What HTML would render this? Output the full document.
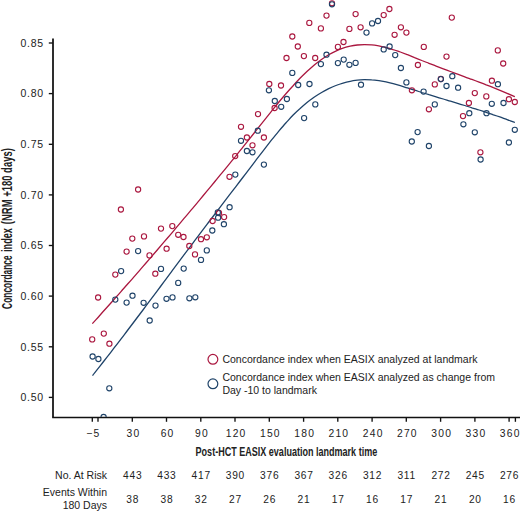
<!DOCTYPE html>
<html><head><meta charset="utf-8"><style>
html,body{margin:0;padding:0;background:#fff;}
svg{display:block;}
text{font-family:"Liberation Sans",sans-serif;fill:#222;}
</style></head><body>
<svg width="520" height="512" viewBox="0 0 520 512">
<defs><clipPath id="pc"><rect x="53" y="0" width="467" height="417"/></clipPath></defs>

<g stroke="#111" stroke-width="1.35" fill="none">
<path d="M53.0,38.5 V417.5" stroke-width="1.75"/>
<path d="M52.2,417.5 H520"/>
<path d="M48.8,43.0 H52.8"/>
<path d="M48.8,93.6 H52.8"/>
<path d="M48.8,144.3 H52.8"/>
<path d="M48.8,194.9 H52.8"/>
<path d="M48.8,245.5 H52.8"/>
<path d="M48.8,296.1 H52.8"/>
<path d="M48.8,346.8 H52.8"/>
<path d="M48.8,397.4 H52.8"/>
<path d="M92.3,417.6 V421.8"/>
<path d="M98.0,417.6 V421.8"/>
<path d="M132.3,417.6 V421.8"/>
<path d="M166.5,417.6 V421.8"/>
<path d="M200.8,417.6 V421.8"/>
<path d="M235.0,417.6 V421.8"/>
<path d="M269.3,417.6 V421.8"/>
<path d="M303.6,417.6 V421.8"/>
<path d="M337.8,417.6 V421.8"/>
<path d="M372.1,417.6 V421.8"/>
<path d="M406.3,417.6 V421.8"/>
<path d="M440.6,417.6 V421.8"/>
<path d="M474.9,417.6 V421.8"/>
<path d="M509.1,417.6 V421.8"/>
<path d="M515.4,417.6 V421.8"/>
</g>
<g font-size="10.5" text-anchor="end" letter-spacing="0.7">
<text x="43.8" y="46.7">0.85</text>
<text x="43.8" y="97.3">0.80</text>
<text x="43.8" y="148.0">0.75</text>
<text x="43.8" y="198.6">0.70</text>
<text x="43.8" y="249.2">0.65</text>
<text x="43.8" y="299.8">0.60</text>
<text x="43.8" y="350.5">0.55</text>
<text x="43.8" y="401.1">0.50</text>
</g>
<g font-size="10.3" text-anchor="middle" letter-spacing="1.2">
<text x="93.4" y="436.8">−5</text>
<text x="133.4" y="436.8">30</text>
<text x="167.6" y="436.8">60</text>
<text x="201.9" y="436.8">90</text>
<text x="236.1" y="436.8">120</text>
<text x="270.4" y="436.8">150</text>
<text x="304.7" y="436.8">180</text>
<text x="338.9" y="436.8">210</text>
<text x="373.2" y="436.8">240</text>
<text x="407.4" y="436.8">270</text>
<text x="441.7" y="436.8">300</text>
<text x="476.0" y="436.8">330</text>
<text x="510.2" y="436.8">360</text>
</g>
<text x="0" y="0" font-size="13.6" transform="translate(286.4,455.7) scale(0.665,1)" text-anchor="middle" style="font-weight:bold">Post-HCT EASIX evaluation landmark time</text>
<g font-size="13.8" style="font-weight:bold">
<text transform="translate(11.7,308.9) rotate(-90) scale(0.608,1)">Concordance</text>
<text transform="translate(11.7,251.9) rotate(-90) scale(0.657,1)">index</text>
<text transform="translate(11.7,224.2) rotate(-90) scale(0.687,1)">(NRM +180 days)</text>
</g>
<g clip-path="url(#pc)" fill="none">
<path d="M92.3,323.7 C93.5,322.3 97.1,318.4 99.5,315.7 C101.8,313.1 104.2,310.4 106.6,307.8 C109.0,305.1 111.4,302.4 113.8,299.7 C116.2,297.0 118.6,294.4 121.0,291.6 C123.3,288.9 125.7,286.2 128.1,283.5 C130.5,280.8 132.9,278.1 135.3,275.3 C137.7,272.6 140.1,269.9 142.4,267.1 C144.8,264.4 147.2,261.6 149.6,258.9 C152.0,256.1 154.4,253.3 156.8,250.5 C159.1,247.8 161.5,245.0 163.9,242.2 C166.3,239.4 168.7,236.6 171.1,233.8 C173.5,231.0 175.9,228.2 178.2,225.3 C180.6,222.5 183.0,219.7 185.4,216.8 C187.8,214.0 190.2,211.2 192.6,208.3 C195.0,205.5 197.4,202.6 199.7,199.8 C202.1,196.9 204.5,194.1 206.9,191.2 C209.3,188.3 211.7,185.4 214.1,182.5 C216.5,179.7 218.8,176.8 221.2,173.8 C223.6,170.9 226.0,168.0 228.4,165.1 C230.8,162.2 233.2,159.2 235.6,156.3 C237.9,153.3 240.3,150.4 242.7,147.4 C245.1,144.4 247.5,141.4 249.9,138.4 C252.3,135.4 254.7,132.3 257.0,129.3 C259.4,126.3 261.8,123.3 264.2,120.3 C266.6,117.3 269.0,114.3 271.4,111.3 C273.8,108.3 276.1,105.4 278.5,102.5 C280.9,99.7 283.3,96.8 285.7,94.0 C288.1,91.3 290.5,88.6 292.9,86.0 C295.2,83.3 297.6,80.8 300.0,78.3 C302.4,75.9 304.8,73.6 307.2,71.3 C309.6,69.1 312.0,67.0 314.3,65.0 C316.7,63.0 319.1,61.2 321.5,59.5 C323.9,57.8 326.3,56.2 328.7,54.8 C331.1,53.4 333.4,52.2 335.8,51.1 C338.2,50.0 340.6,49.0 343.0,48.2 C345.4,47.4 347.8,46.8 350.2,46.2 C352.5,45.7 354.9,45.3 357.3,45.0 C359.7,44.8 362.1,44.6 364.5,44.6 C366.9,44.6 369.3,44.7 371.6,44.9 C374.0,45.1 376.4,45.5 378.8,45.9 C381.2,46.4 383.6,46.9 386.0,47.5 C388.4,48.1 390.7,48.8 393.1,49.6 C395.5,50.3 397.9,51.2 400.3,52.0 C402.7,52.9 405.1,53.8 407.5,54.7 C409.8,55.6 412.2,56.6 414.6,57.6 C417.0,58.5 419.4,59.5 421.8,60.5 C424.2,61.4 426.6,62.4 428.9,63.3 C431.3,64.2 433.7,65.2 436.1,66.1 C438.5,67.0 440.9,67.9 443.3,68.8 C445.7,69.7 448.1,70.6 450.4,71.5 C452.8,72.4 455.2,73.2 457.6,74.1 C460.0,75.0 462.4,75.9 464.8,76.8 C467.1,77.7 469.5,78.5 471.9,79.4 C474.3,80.3 476.7,81.2 479.1,82.1 C481.5,83.0 483.9,83.9 486.2,84.9 C488.6,85.8 491.0,86.7 493.4,87.7 C495.8,88.6 498.2,89.6 500.6,90.6 C503.0,91.6 505.4,92.6 507.7,93.6 C510.1,94.6 513.7,96.2 514.9,96.7" stroke="#aa173f" stroke-width="1.3"/>
<path d="M92.5,375.6 C93.6,374.1 97.2,369.6 99.6,366.6 C102.0,363.5 104.4,360.5 106.8,357.4 C109.2,354.4 111.5,351.3 113.9,348.2 C116.3,345.1 118.7,342.0 121.1,338.9 C123.5,335.7 125.9,332.6 128.2,329.5 C130.6,326.3 133.0,323.2 135.4,320.0 C137.8,316.8 140.2,313.6 142.6,310.5 C145.0,307.3 147.3,304.1 149.7,300.9 C152.1,297.7 154.5,294.5 156.9,291.3 C159.3,288.1 161.7,284.9 164.1,281.7 C166.4,278.5 168.8,275.3 171.2,272.1 C173.6,268.8 176.0,265.6 178.4,262.4 C180.8,259.2 183.1,256.0 185.5,252.9 C187.9,249.7 190.3,246.5 192.7,243.3 C195.1,240.1 197.5,237.0 199.8,233.8 C202.2,230.7 204.6,227.5 207.0,224.4 C209.4,221.2 211.8,218.1 214.2,215.0 C216.6,211.8 218.9,208.7 221.3,205.6 C223.7,202.5 226.1,199.3 228.5,196.2 C230.9,193.1 233.3,190.0 235.7,186.9 C238.0,183.8 240.4,180.6 242.8,177.5 C245.2,174.4 247.6,171.3 250.0,168.1 C252.4,165.0 254.7,161.9 257.1,158.7 C259.5,155.6 261.9,152.5 264.3,149.4 C266.7,146.3 269.1,143.2 271.4,140.2 C273.8,137.2 276.2,134.2 278.6,131.3 C281.0,128.5 283.4,125.7 285.8,123.0 C288.2,120.4 290.5,117.8 292.9,115.3 C295.3,112.9 297.7,110.6 300.1,108.5 C302.5,106.3 304.9,104.3 307.3,102.3 C309.6,100.4 312.0,98.7 314.4,97.0 C316.8,95.4 319.2,93.9 321.6,92.5 C324.0,91.1 326.4,89.8 328.7,88.6 C331.1,87.5 333.5,86.4 335.9,85.5 C338.3,84.6 340.7,83.8 343.1,83.1 C345.4,82.4 347.8,81.8 350.2,81.3 C352.6,80.8 355.0,80.5 357.4,80.2 C359.8,79.9 362.2,79.8 364.5,79.7 C366.9,79.7 369.3,79.7 371.7,79.9 C374.1,80.0 376.5,80.3 378.9,80.6 C381.2,80.9 383.6,81.4 386.0,81.9 C388.4,82.4 390.8,83.0 393.2,83.6 C395.6,84.3 398.0,85.0 400.3,85.7 C402.7,86.4 405.1,87.2 407.5,87.9 C409.9,88.7 412.3,89.5 414.7,90.2 C417.0,91.0 419.4,91.7 421.8,92.5 C424.2,93.2 426.6,93.9 429.0,94.7 C431.4,95.4 433.8,96.1 436.1,96.8 C438.5,97.6 440.9,98.3 443.3,99.0 C445.7,99.7 448.1,100.5 450.5,101.2 C452.8,101.9 455.2,102.6 457.6,103.3 C460.0,104.1 462.4,104.8 464.8,105.5 C467.2,106.3 469.6,107.0 471.9,107.8 C474.3,108.5 476.7,109.3 479.1,110.0 C481.5,110.8 483.9,111.6 486.3,112.4 C488.6,113.2 491.0,113.9 493.4,114.8 C495.8,115.6 498.2,116.4 500.6,117.2 C503.0,118.1 505.4,118.9 507.7,119.8 C510.1,120.7 513.7,122.0 514.9,122.5" stroke="#1f4369" stroke-width="1.3"/>
<circle cx="92.2" cy="339.4" r="2.6" stroke="#aa173f" stroke-width="1.1"/>
<circle cx="103.8" cy="333.6" r="2.6" stroke="#aa173f" stroke-width="1.1"/>
<circle cx="109.4" cy="343.7" r="2.6" stroke="#aa173f" stroke-width="1.1"/>
<circle cx="98.1" cy="297.5" r="2.6" stroke="#aa173f" stroke-width="1.1"/>
<circle cx="115.3" cy="274.6" r="2.6" stroke="#aa173f" stroke-width="1.1"/>
<circle cx="120.9" cy="209.5" r="2.6" stroke="#aa173f" stroke-width="1.1"/>
<circle cx="126.6" cy="251.6" r="2.6" stroke="#aa173f" stroke-width="1.1"/>
<circle cx="132.3" cy="238.6" r="2.6" stroke="#aa173f" stroke-width="1.1"/>
<circle cx="138.1" cy="189.5" r="2.6" stroke="#aa173f" stroke-width="1.1"/>
<circle cx="144.0" cy="236.4" r="2.6" stroke="#aa173f" stroke-width="1.1"/>
<circle cx="149.5" cy="255.4" r="2.6" stroke="#aa173f" stroke-width="1.1"/>
<circle cx="155.3" cy="273.7" r="2.6" stroke="#aa173f" stroke-width="1.1"/>
<circle cx="161.0" cy="228.6" r="2.6" stroke="#aa173f" stroke-width="1.1"/>
<circle cx="166.6" cy="248.7" r="2.6" stroke="#aa173f" stroke-width="1.1"/>
<circle cx="172.3" cy="226.1" r="2.6" stroke="#aa173f" stroke-width="1.1"/>
<circle cx="178.2" cy="234.8" r="2.6" stroke="#aa173f" stroke-width="1.1"/>
<circle cx="183.5" cy="237.0" r="2.6" stroke="#aa173f" stroke-width="1.1"/>
<circle cx="189.3" cy="246.0" r="2.6" stroke="#aa173f" stroke-width="1.1"/>
<circle cx="195.0" cy="254.4" r="2.6" stroke="#aa173f" stroke-width="1.1"/>
<circle cx="201.0" cy="239.2" r="2.6" stroke="#aa173f" stroke-width="1.1"/>
<circle cx="206.8" cy="237.3" r="2.6" stroke="#aa173f" stroke-width="1.1"/>
<circle cx="212.6" cy="221.0" r="2.6" stroke="#aa173f" stroke-width="1.1"/>
<circle cx="219.0" cy="213.0" r="2.6" stroke="#aa173f" stroke-width="1.1"/>
<circle cx="224.1" cy="217.1" r="2.6" stroke="#aa173f" stroke-width="1.1"/>
<circle cx="229.5" cy="176.8" r="2.6" stroke="#aa173f" stroke-width="1.1"/>
<circle cx="235.2" cy="156.1" r="2.6" stroke="#aa173f" stroke-width="1.1"/>
<circle cx="241.0" cy="126.8" r="2.6" stroke="#aa173f" stroke-width="1.1"/>
<circle cx="246.9" cy="137.5" r="2.6" stroke="#aa173f" stroke-width="1.1"/>
<circle cx="252.5" cy="145.3" r="2.6" stroke="#aa173f" stroke-width="1.1"/>
<circle cx="258.0" cy="114.1" r="2.6" stroke="#aa173f" stroke-width="1.1"/>
<circle cx="263.9" cy="137.5" r="2.6" stroke="#aa173f" stroke-width="1.1"/>
<circle cx="269.3" cy="84.0" r="2.6" stroke="#aa173f" stroke-width="1.1"/>
<circle cx="274.6" cy="108.0" r="2.6" stroke="#aa173f" stroke-width="1.1"/>
<circle cx="281.0" cy="85.5" r="2.6" stroke="#aa173f" stroke-width="1.1"/>
<circle cx="286.5" cy="58.0" r="2.6" stroke="#aa173f" stroke-width="1.1"/>
<circle cx="292.3" cy="36.5" r="2.6" stroke="#aa173f" stroke-width="1.1"/>
<circle cx="297.8" cy="46.5" r="2.6" stroke="#aa173f" stroke-width="1.1"/>
<circle cx="303.9" cy="56.1" r="2.6" stroke="#aa173f" stroke-width="1.1"/>
<circle cx="309.3" cy="22.9" r="2.6" stroke="#aa173f" stroke-width="1.1"/>
<circle cx="315.2" cy="58.0" r="2.6" stroke="#aa173f" stroke-width="1.1"/>
<circle cx="320.9" cy="28.4" r="2.6" stroke="#aa173f" stroke-width="1.1"/>
<circle cx="326.5" cy="15.6" r="2.6" stroke="#aa173f" stroke-width="1.1"/>
<circle cx="332.0" cy="3.3" r="2.6" stroke="#aa173f" stroke-width="1.1"/>
<circle cx="337.9" cy="46.9" r="2.6" stroke="#aa173f" stroke-width="1.1"/>
<circle cx="343.5" cy="42.0" r="2.6" stroke="#aa173f" stroke-width="1.1"/>
<circle cx="349.4" cy="28.9" r="2.6" stroke="#aa173f" stroke-width="1.1"/>
<circle cx="355.6" cy="14.1" r="2.6" stroke="#aa173f" stroke-width="1.1"/>
<circle cx="360.6" cy="27.3" r="2.6" stroke="#aa173f" stroke-width="1.1"/>
<circle cx="383.7" cy="15.1" r="2.6" stroke="#aa173f" stroke-width="1.1"/>
<circle cx="389.4" cy="9.0" r="2.6" stroke="#aa173f" stroke-width="1.1"/>
<circle cx="394.6" cy="34.8" r="2.6" stroke="#aa173f" stroke-width="1.1"/>
<circle cx="400.9" cy="27.3" r="2.6" stroke="#aa173f" stroke-width="1.1"/>
<circle cx="406.4" cy="32.6" r="2.6" stroke="#aa173f" stroke-width="1.1"/>
<circle cx="411.9" cy="90.3" r="2.6" stroke="#aa173f" stroke-width="1.1"/>
<circle cx="417.9" cy="65.0" r="2.6" stroke="#aa173f" stroke-width="1.1"/>
<circle cx="423.8" cy="46.9" r="2.6" stroke="#aa173f" stroke-width="1.1"/>
<circle cx="428.9" cy="109.3" r="2.6" stroke="#aa173f" stroke-width="1.1"/>
<circle cx="434.8" cy="84.4" r="2.6" stroke="#aa173f" stroke-width="1.1"/>
<circle cx="440.8" cy="79.0" r="2.6" stroke="#aa173f" stroke-width="1.1"/>
<circle cx="446.5" cy="56.6" r="2.6" stroke="#aa173f" stroke-width="1.1"/>
<circle cx="451.8" cy="17.6" r="2.6" stroke="#aa173f" stroke-width="1.1"/>
<circle cx="463.0" cy="116.1" r="2.6" stroke="#aa173f" stroke-width="1.1"/>
<circle cx="468.9" cy="103.0" r="2.6" stroke="#aa173f" stroke-width="1.1"/>
<circle cx="474.8" cy="93.1" r="2.6" stroke="#aa173f" stroke-width="1.1"/>
<circle cx="480.4" cy="152.3" r="2.6" stroke="#aa173f" stroke-width="1.1"/>
<circle cx="486.3" cy="96.4" r="2.6" stroke="#aa173f" stroke-width="1.1"/>
<circle cx="491.9" cy="80.7" r="2.6" stroke="#aa173f" stroke-width="1.1"/>
<circle cx="497.8" cy="50.4" r="2.6" stroke="#aa173f" stroke-width="1.1"/>
<circle cx="503.2" cy="63.5" r="2.6" stroke="#aa173f" stroke-width="1.1"/>
<circle cx="508.9" cy="99.2" r="2.6" stroke="#aa173f" stroke-width="1.1"/>
<circle cx="514.8" cy="102.0" r="2.6" stroke="#aa173f" stroke-width="1.1"/>
<circle cx="92.6" cy="356.5" r="2.6" stroke="#1f4369" stroke-width="1.1"/>
<circle cx="98.4" cy="359.0" r="2.6" stroke="#1f4369" stroke-width="1.1"/>
<circle cx="103.6" cy="417.0" r="2.6" stroke="#1f4369" stroke-width="1.1"/>
<circle cx="109.3" cy="388.3" r="2.6" stroke="#1f4369" stroke-width="1.1"/>
<circle cx="115.3" cy="299.6" r="2.6" stroke="#1f4369" stroke-width="1.1"/>
<circle cx="121.1" cy="271.1" r="2.6" stroke="#1f4369" stroke-width="1.1"/>
<circle cx="126.6" cy="302.6" r="2.6" stroke="#1f4369" stroke-width="1.1"/>
<circle cx="132.5" cy="295.7" r="2.6" stroke="#1f4369" stroke-width="1.1"/>
<circle cx="138.1" cy="251.1" r="2.6" stroke="#1f4369" stroke-width="1.1"/>
<circle cx="143.6" cy="302.8" r="2.6" stroke="#1f4369" stroke-width="1.1"/>
<circle cx="149.7" cy="320.5" r="2.6" stroke="#1f4369" stroke-width="1.1"/>
<circle cx="155.5" cy="305.6" r="2.6" stroke="#1f4369" stroke-width="1.1"/>
<circle cx="161.0" cy="268.9" r="2.6" stroke="#1f4369" stroke-width="1.1"/>
<circle cx="166.5" cy="298.8" r="2.6" stroke="#1f4369" stroke-width="1.1"/>
<circle cx="172.5" cy="297.4" r="2.6" stroke="#1f4369" stroke-width="1.1"/>
<circle cx="178.2" cy="282.9" r="2.6" stroke="#1f4369" stroke-width="1.1"/>
<circle cx="183.7" cy="268.6" r="2.6" stroke="#1f4369" stroke-width="1.1"/>
<circle cx="189.4" cy="298.3" r="2.6" stroke="#1f4369" stroke-width="1.1"/>
<circle cx="195.3" cy="297.3" r="2.6" stroke="#1f4369" stroke-width="1.1"/>
<circle cx="201.0" cy="259.9" r="2.6" stroke="#1f4369" stroke-width="1.1"/>
<circle cx="206.8" cy="250.4" r="2.6" stroke="#1f4369" stroke-width="1.1"/>
<circle cx="212.3" cy="230.5" r="2.6" stroke="#1f4369" stroke-width="1.1"/>
<circle cx="217.8" cy="212.4" r="2.6" stroke="#1f4369" stroke-width="1.1"/>
<circle cx="218.1" cy="217.7" r="2.6" stroke="#1f4369" stroke-width="1.1"/>
<circle cx="223.9" cy="224.2" r="2.6" stroke="#1f4369" stroke-width="1.1"/>
<circle cx="229.6" cy="207.2" r="2.6" stroke="#1f4369" stroke-width="1.1"/>
<circle cx="235.3" cy="174.6" r="2.6" stroke="#1f4369" stroke-width="1.1"/>
<circle cx="241.0" cy="140.8" r="2.6" stroke="#1f4369" stroke-width="1.1"/>
<circle cx="246.9" cy="151.0" r="2.6" stroke="#1f4369" stroke-width="1.1"/>
<circle cx="252.5" cy="152.3" r="2.6" stroke="#1f4369" stroke-width="1.1"/>
<circle cx="257.8" cy="130.7" r="2.6" stroke="#1f4369" stroke-width="1.1"/>
<circle cx="263.9" cy="164.6" r="2.6" stroke="#1f4369" stroke-width="1.1"/>
<circle cx="268.9" cy="90.3" r="2.6" stroke="#1f4369" stroke-width="1.1"/>
<circle cx="274.8" cy="101.0" r="2.6" stroke="#1f4369" stroke-width="1.1"/>
<circle cx="281.2" cy="106.8" r="2.6" stroke="#1f4369" stroke-width="1.1"/>
<circle cx="286.9" cy="99.0" r="2.6" stroke="#1f4369" stroke-width="1.1"/>
<circle cx="292.3" cy="72.9" r="2.6" stroke="#1f4369" stroke-width="1.1"/>
<circle cx="298.2" cy="85.0" r="2.6" stroke="#1f4369" stroke-width="1.1"/>
<circle cx="304.1" cy="118.1" r="2.6" stroke="#1f4369" stroke-width="1.1"/>
<circle cx="309.5" cy="84.0" r="2.6" stroke="#1f4369" stroke-width="1.1"/>
<circle cx="315.3" cy="104.4" r="2.6" stroke="#1f4369" stroke-width="1.1"/>
<circle cx="320.9" cy="64.1" r="2.6" stroke="#1f4369" stroke-width="1.1"/>
<circle cx="326.5" cy="54.7" r="2.6" stroke="#1f4369" stroke-width="1.1"/>
<circle cx="332.0" cy="4.3" r="2.6" stroke="#1f4369" stroke-width="1.1"/>
<circle cx="337.9" cy="63.1" r="2.6" stroke="#1f4369" stroke-width="1.1"/>
<circle cx="343.7" cy="59.6" r="2.6" stroke="#1f4369" stroke-width="1.1"/>
<circle cx="349.4" cy="64.8" r="2.6" stroke="#1f4369" stroke-width="1.1"/>
<circle cx="355.6" cy="62.9" r="2.6" stroke="#1f4369" stroke-width="1.1"/>
<circle cx="361.0" cy="84.7" r="2.6" stroke="#1f4369" stroke-width="1.1"/>
<circle cx="366.5" cy="32.6" r="2.6" stroke="#1f4369" stroke-width="1.1"/>
<circle cx="372.1" cy="23.4" r="2.6" stroke="#1f4369" stroke-width="1.1"/>
<circle cx="378.0" cy="21.0" r="2.6" stroke="#1f4369" stroke-width="1.1"/>
<circle cx="383.7" cy="49.4" r="2.6" stroke="#1f4369" stroke-width="1.1"/>
<circle cx="389.6" cy="46.5" r="2.6" stroke="#1f4369" stroke-width="1.1"/>
<circle cx="395.2" cy="55.1" r="2.6" stroke="#1f4369" stroke-width="1.1"/>
<circle cx="400.9" cy="68.0" r="2.6" stroke="#1f4369" stroke-width="1.1"/>
<circle cx="406.4" cy="82.4" r="2.6" stroke="#1f4369" stroke-width="1.1"/>
<circle cx="411.8" cy="141.5" r="2.6" stroke="#1f4369" stroke-width="1.1"/>
<circle cx="417.6" cy="132.1" r="2.6" stroke="#1f4369" stroke-width="1.1"/>
<circle cx="423.6" cy="91.6" r="2.6" stroke="#1f4369" stroke-width="1.1"/>
<circle cx="428.9" cy="146.0" r="2.6" stroke="#1f4369" stroke-width="1.1"/>
<circle cx="434.8" cy="104.4" r="2.6" stroke="#1f4369" stroke-width="1.1"/>
<circle cx="440.9" cy="79.1" r="2.6" stroke="#1f4369" stroke-width="1.1"/>
<circle cx="446.5" cy="86.0" r="2.6" stroke="#1f4369" stroke-width="1.1"/>
<circle cx="452.3" cy="76.2" r="2.6" stroke="#1f4369" stroke-width="1.1"/>
<circle cx="458.1" cy="87.7" r="2.6" stroke="#1f4369" stroke-width="1.1"/>
<circle cx="463.4" cy="124.3" r="2.6" stroke="#1f4369" stroke-width="1.1"/>
<circle cx="469.3" cy="113.2" r="2.6" stroke="#1f4369" stroke-width="1.1"/>
<circle cx="474.8" cy="132.3" r="2.6" stroke="#1f4369" stroke-width="1.1"/>
<circle cx="480.6" cy="159.5" r="2.6" stroke="#1f4369" stroke-width="1.1"/>
<circle cx="486.5" cy="113.2" r="2.6" stroke="#1f4369" stroke-width="1.1"/>
<circle cx="491.8" cy="103.8" r="2.6" stroke="#1f4369" stroke-width="1.1"/>
<circle cx="497.9" cy="84.2" r="2.6" stroke="#1f4369" stroke-width="1.1"/>
<circle cx="503.5" cy="103.0" r="2.6" stroke="#1f4369" stroke-width="1.1"/>
<circle cx="508.9" cy="142.5" r="2.6" stroke="#1f4369" stroke-width="1.1"/>
<circle cx="514.8" cy="129.8" r="2.6" stroke="#1f4369" stroke-width="1.1"/>
</g>
<circle cx="212.9" cy="359.3" r="4.9" fill="none" stroke="#aa173f" stroke-width="1.2"/>
<circle cx="212.9" cy="383.8" r="4.9" fill="none" stroke="#1f4369" stroke-width="1.2"/>
<g font-size="10.5">
<text x="222.4" y="362.6">Concordance index when EASIX analyzed at landmark</text>
<text x="222.4" y="380.7">Concordance index when EASIX analyzed as change from</text>
<text x="222.4" y="393.7">Day -10 to landmark</text>
</g>
<g font-size="10.5" text-anchor="end">
<text x="107" y="478.5">No. At Risk</text>
<text x="107" y="495.8">Events Within</text>
<text x="107" y="509.2">180 Days</text>
</g>
<g font-size="10.2" text-anchor="middle" letter-spacing="0.75">
<text x="132.7" y="478.8">443</text>
<text x="132.7" y="502.8">38</text>
<text x="166.9" y="478.8">433</text>
<text x="166.9" y="502.8">38</text>
<text x="201.2" y="478.8">417</text>
<text x="201.2" y="502.8">32</text>
<text x="235.4" y="478.8">390</text>
<text x="235.4" y="502.8">27</text>
<text x="269.7" y="478.8">376</text>
<text x="269.7" y="502.8">26</text>
<text x="304.0" y="478.8">367</text>
<text x="304.0" y="502.8">21</text>
<text x="338.2" y="478.8">326</text>
<text x="338.2" y="502.8">17</text>
<text x="372.5" y="478.8">312</text>
<text x="372.5" y="502.8">16</text>
<text x="406.7" y="478.8">311</text>
<text x="406.7" y="502.8">17</text>
<text x="441.0" y="478.8">272</text>
<text x="441.0" y="502.8">21</text>
<text x="475.3" y="478.8">245</text>
<text x="475.3" y="502.8">20</text>
<text x="509.5" y="478.8">276</text>
<text x="509.5" y="502.8">16</text>
</g>
</svg>
</body></html>
